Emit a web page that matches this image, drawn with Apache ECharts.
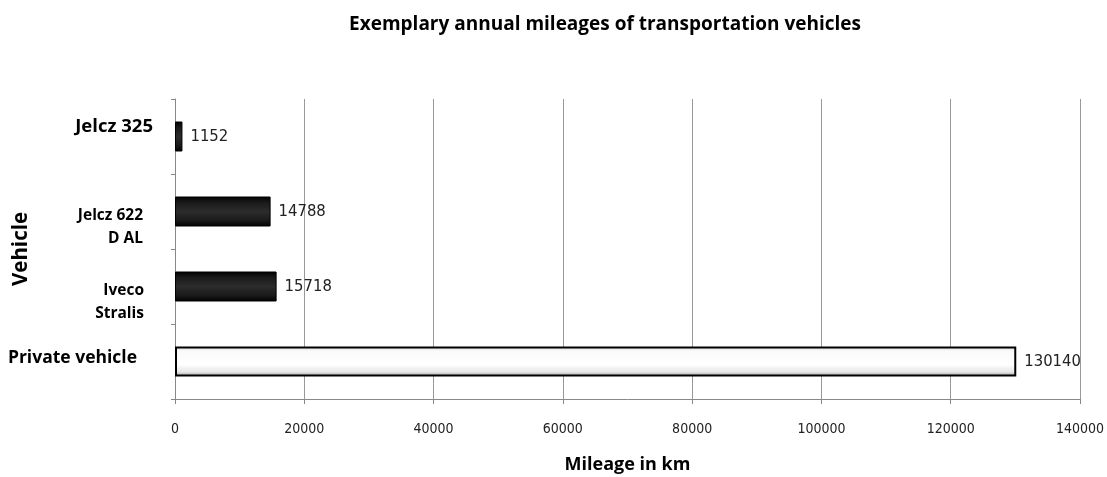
<!DOCTYPE html>
<html>
<head>
<meta charset="utf-8">
<script src="https://cdn.jsdelivr.net/npm/echarts@6/dist/echarts.min.js"></script>
<style>
  html, body { margin: 0; padding: 0; background: #fff; }
  #chart { width: 1107px; height: 477px; }
</style>
</head>
<body>
<div id="chart"></div>
<script>
// Data (bottom to top)
const categories = ['Private vehicle', 'Iveco Stralis', 'Jelcz 622 D AL', 'Jelcz 325'];
const categoryLabels = ['{p|Private vehicle}', '{e| }\n{s|Iveco}\n{s|Stralis}', '{e| }\n{m|Jelcz 622}\n{m|D AL}', '{a|Jelcz 325}'];
const mileages = [130140, 15718, 14788, 1152];
const xTicks = [0, 20000, 40000, 60000, 80000, 100000, 120000, 140000];

const blackBevel = {
  type: 'linear', x: 0, y: 0, x2: 0, y2: 1,
  colorStops: [
    { offset: 0, color: '#000' },
    { offset: 0.2, color: '#1a1a1a' },
    { offset: 0.5, color: '#2c2c2c' },
    { offset: 0.8, color: '#1a1a1a' },
    { offset: 1, color: '#000' }
  ]
};
const whiteBevel = {
  type: 'linear', x: 0, y: 0, x2: 0, y2: 1,
  colorStops: [
    { offset: 0, color: '#d8d8d8' },
    { offset: 0.15, color: '#fafafa' },
    { offset: 0.6, color: '#ffffff' },
    { offset: 0.85, color: '#e6e6e6' },
    { offset: 1, color: '#9a9a9a' }
  ]
};

const chart = echarts.init(document.getElementById('chart'), null, { renderer: 'canvas' });
const labelFont = '"Open Sans", Lato, sans-serif';
const numFont = '"DejaVu Sans Condensed", "Liberation Sans Narrow", "DejaVu Sans", sans-serif';

chart.setOption({
  animation: false,
  backgroundColor: '#fff',
  title: {
    text: 'Exemplary annual mileages of transportation vehicles',
    left: 600, top: 10, textAlign: 'center',
    textStyle: { fontFamily: labelFont, fontWeight: 'bold', fontSize: 19, color: '#000' }
  },
  grid: { left: 175, right: 27, top: 99, bottom: 78, containLabel: false, outerBoundsMode: 'none' },
  xAxis: {
    type: 'value', min: 0, max: 140000, interval: 20000,
    name: 'Mileage in km', nameLocation: 'middle', nameGap: 57,
    nameTextStyle: { fontFamily: labelFont, fontWeight: 'bold', fontSize: 18, color: '#000' },
    axisLine: { show: true, lineStyle: { color: '#888', width: 1 } },
    axisTick: { show: true, length: 5, lineStyle: { color: '#888' } },
    axisLabel: { margin: 23, fontFamily: numFont, fontSize: 14, color: '#222',
      formatter: v => String(v) },
    splitLine: { show: true, lineStyle: { color: '#999', width: 1 } }
  },
  yAxis: {
    type: 'category', data: categories,
    name: 'Vehicle', nameLocation: 'middle', nameGap: 143, nameMoveOverlap: false,
    nameTextStyle: { fontFamily: labelFont, fontWeight: 'bold', fontSize: 20.5, color: '#000' },
    axisLine: { show: true, lineStyle: { color: '#888', width: 1 } },
    axisTick: { show: true, length: 4, lineStyle: { color: '#888' } },
    axisLabel: {
      margin: 0,
      formatter: (v, i) => categoryLabels[i],
      rich: {
        e: { fontSize: 10, lineHeight: 32 },
        a: { fontFamily: labelFont, fontWeight: 'bold', fontSize: 18.5, color: '#000', lineHeight: 22, padding: [0, 22, 20, 0] },
        p: { fontFamily: labelFont, fontWeight: 'bold', fontSize: 17.5, color: '#000', lineHeight: 22, padding: [0, 38, 7, 0] },
        m: { fontFamily: labelFont, fontWeight: 'bold', fontSize: 15.5, color: '#000', lineHeight: 23, padding: [0, 32, 0, 0] },
        s: { fontFamily: labelFont, fontWeight: 'bold', fontSize: 15.5, color: '#000', lineHeight: 23, padding: [0, 31, 0, 0] }
      }
    },
    splitLine: { show: false }
  },
  series: [{
    type: 'bar',
    data: mileages.map((v, i) => ({
      value: v,
      itemStyle: i === 0
        ? { color: whiteBevel, borderColor: '#000', borderWidth: 2 }
        : { color: blackBevel, borderColor: '#000', borderWidth: 1 }
    })),
    barWidth: '40%',
    label: {
      show: true, position: 'right', distance: 8,
      fontFamily: numFont, fontSize: 16.5, color: '#222'
    }
  }]
});
</script>
</body>
</html>
